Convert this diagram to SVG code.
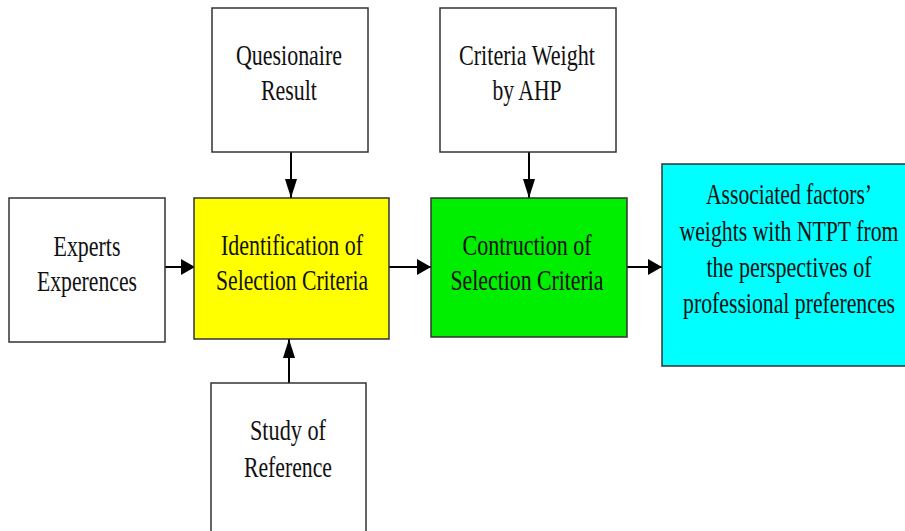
<svg xmlns="http://www.w3.org/2000/svg" width="905" height="531" viewBox="0 0 905 531">
<defs>
<marker id="ah" markerUnits="userSpaceOnUse" markerWidth="14" markerHeight="16" refX="14" refY="8" orient="auto">
<path d="M0,0 L14,8 L0,16 z" fill="#000"/>
</marker>
<marker id="av" markerUnits="userSpaceOnUse" markerWidth="19" markerHeight="12" refX="19" refY="6" orient="auto">
<path d="M0,0 L19,6 L0,12 z" fill="#000"/>
</marker>
<style>
.box{stroke:#333;stroke-width:1.5}
.t{font-family:"Liberation Serif","Times New Roman",serif;font-size:30px;fill:#111;text-anchor:middle}
.c{stroke:#000;stroke-width:2;fill:none}
.h{marker-end:url(#ah)}
.v{marker-end:url(#av)}
</style>
</defs>
<rect width="905" height="531" fill="#fff"/>
<g id="connectors">
<line class="c v" x1="291" y1="152" x2="291" y2="198"/>
<line class="c h" x1="165" y1="267" x2="195" y2="267"/>
<line class="c h" x1="389" y1="267" x2="431" y2="267"/>
<line class="c v" x1="289" y1="383" x2="289" y2="339"/>
<line class="c v" x1="529" y1="152" x2="529" y2="198"/>
<line class="c h" x1="627" y1="267" x2="662" y2="267"/>
</g>
<g id="questionnaire">
<rect class="box" x="212" y="8" width="156" height="144" fill="#fff"/>
<g transform="scale(0.725 1)">
<text class="t" x="398.6" y="65" textLength="146.2" lengthAdjust="spacingAndGlyphs">Quesionaire</text>
<text class="t" x="398.6" y="100" textLength="77.2" lengthAdjust="spacingAndGlyphs">Result</text>
</g>
</g>
<g id="experts">
<rect class="box" x="9" y="198" width="156" height="144" fill="#fff"/>
<g transform="scale(0.725 1)">
<text class="t" x="120" y="256" textLength="92.4" lengthAdjust="spacingAndGlyphs">Experts</text>
<text class="t" x="120" y="291" textLength="137.9" lengthAdjust="spacingAndGlyphs">Experences</text>
</g>
</g>
<g id="identification">
<rect class="box" x="194" y="198" width="195" height="141" fill="#ffff00"/>
<g transform="scale(0.725 1)">
<text class="t" x="402.8" y="255" textLength="195.9" lengthAdjust="spacingAndGlyphs">Identification of</text>
<text class="t" x="402.8" y="290" textLength="209.7" lengthAdjust="spacingAndGlyphs">Selection Criteria</text>
</g>
</g>
<g id="study">
<rect x="211" y="383" width="155" height="148" fill="#fff"/>
<path class="box" d="M211,531 V383 H366 V531" fill="none"/>
<g transform="scale(0.725 1)">
<text class="t" x="397.2" y="440" textLength="104.8" lengthAdjust="spacingAndGlyphs">Study of</text>
<text class="t" x="397.2" y="477" textLength="121.4" lengthAdjust="spacingAndGlyphs">Reference</text>
</g>
</g>
<g id="criteria-weight">
<rect class="box" x="440" y="8" width="176" height="144" fill="#fff"/>
<g transform="scale(0.725 1)">
<text class="t" x="726.9" y="65" textLength="187.6" lengthAdjust="spacingAndGlyphs">Criteria Weight</text>
<text class="t" x="726.9" y="100" textLength="95.2" lengthAdjust="spacingAndGlyphs">by AHP</text>
</g>
</g>
<g id="construction">
<rect class="box" x="431" y="198" width="196" height="139" fill="#00ee00"/>
<g transform="scale(0.725 1)">
<text class="t" x="726.9" y="255" textLength="177.9" lengthAdjust="spacingAndGlyphs">Contruction of</text>
<text class="t" x="726.9" y="290" textLength="211" lengthAdjust="spacingAndGlyphs">Selection Criteria</text>
</g>
</g>
<g id="associated">
<rect x="662" y="164" width="243" height="202" fill="#00ffff"/>
<path class="box" d="M905,164 H662 V366 H905" fill="none"/>
<g transform="scale(0.725 1)">
<text class="t" x="1088.3" y="204" textLength="229" lengthAdjust="spacingAndGlyphs">Associated factors’</text>
<text class="t" x="1088.3" y="241" textLength="302.1" lengthAdjust="spacingAndGlyphs">weights with NTPT from</text>
<text class="t" x="1088.3" y="277" textLength="227.6" lengthAdjust="spacingAndGlyphs">the perspectives of</text>
<text class="t" x="1088.3" y="313" textLength="292.4" lengthAdjust="spacingAndGlyphs">professional preferences</text>
</g>
</g>
</svg>
